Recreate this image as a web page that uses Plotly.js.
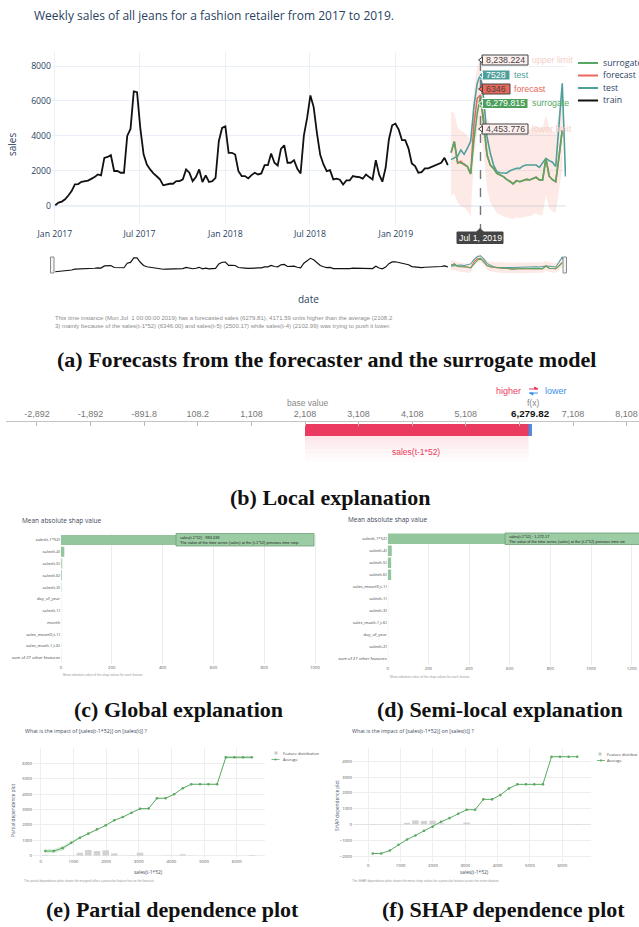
<!DOCTYPE html>
<html><head><meta charset="utf-8">
<script src="https://cdn.plot.ly/plotly-3.0.1.min.js"></script>
<style>html,body{margin:0;padding:0;background:#fff;overflow:hidden}#chart{width:639px;height:927px}</style>
</head><body><div id="chart"></div>
<script>
// ================= DATA =================
// (a) weekly sales, train: Mondays from 2017-01-02
const trainStart = '2017-01-02';
const trainSales = [40,190,250,380,600,850,1230,1250,1380,1400,
1450,1550,1650,1800,1750,2750,2800,2900,2000,2000,
1900,1900,4000,4400,6550,6500,4450,2950,2370,2090,
1860,1700,1520,1180,1230,1270,1270,1420,1420,1520,
2090,1900,1420,1650,2090,1370,1750,1370,1420,1610,
3700,4460,4550,3040,3040,2940,1990,1710,1710,1575,
1765,1900,1800,1860,2330,2330,3000,2470,2315,3260,
3470,2470,2470,2620,2125,1860,4020,5030,6320,5650,
4170,2920,2370,1990,2050,1520,1560,1500,1230,1460,
1460,1710,1670,1650,1560,1800,1650,1520,2620,1800,
1385,2180,3800,4610,4700,4360,3760,3760,3280,2430,
2280,1900,1935,2145,2145,2220,2315,2350,2470,2750,2330];
// test period: Mondays from 2019-04-29
const testStart = '2019-04-29';
const testSales = [2650,2750,2850,3200,2950,3300,3700,5700,7010,7528,
6060,3960,3010,2340,1960,1900,1900,1870,2010,2060,
2150,2150,2290,2340,2340,2340,2340,2200,2430,2720,
2590,2500,2250,4500,7010,1680];
const forecastSales = [3050,3680,2450,2550,2350,2250,1830,4700,6150,6346,
4900,2910,2340,2150,1870,1770,1680,1520,1420,1260,
1450,1390,1450,1520,1490,1580,1640,1490,1490,2720,
1700,1500,1390,2800,4340];
const surrogateSales = [3050,3680,2500,2450,2400,2250,1830,3770,5300,6279.815,
4630,2910,2340,2150,1870,1770,1680,1520,1390,1260,
1450,1390,1450,1520,1490,1580,1640,1490,1490,2720,
1700,1500,1390,2800,4340];
const upperLimit = [5400,5300,4500,4300,4200,4000,3800,6600,8000,8238.224,
6800,5000,4700,4600,4500,4400,4400,4300,4200,4100,
4300,4200,4300,4400,4400,4500,4600,4400,4500,5200,
4500,4300,4200,5500,6600];
const lowerLimit = [600,700,200,0,-100,-300,-600,2800,4250,4453.776,
3000,1000,200,-100,-400,-500,-600,-650,-700,-750,
-650,-700,-650,-600,-600,-500,-400,-550,-500,600,
-100,-300,-400,900,2200];
const mainTickVals = ['2017-01-01','2017-07-01','2018-01-01','2018-07-01','2019-01-01'];
const mainTickText = ['Jan 2017','Jul 2017','Jan 2018','Jul 2018','Jan 2019'];
const hoverDate = '2019-07-01';
const hoverDateLabel = 'Jul 1, 2019';
const seriesNames = ['surrogate','forecast','test','train'];
const summaryText = 'This time instance (Mon Jul  1 00:00:00 2019) has a forecasted sales (6279.81), 4171.59 units higher than the average (2108.2<br>3) mainly because of the sales(t-1*52) (6346.00) and sales(t-5) (2500.17) while sales(t-4) (2102.99) was trying to push it lower.';

// (b) force plot
const forceTicks = [-2892,-1892,-891.8,108.2,1108,2108,3108,4108,5108,6108,7108,8108];
const forceTickText = ['-2,892','-1,892','-891.8','108.2','1,108','2,108','3,108','4,108','5,108','','7,108','8,108'];
const baseValue = 2108.23;
const fxValue = 6279.82;
const positiveEffect = 4230.0;
const negativeEffect = -58.41;

// (c) global explanation
const globalFeatures = ['sales(t-1*52)','sales(t-4)','sales(t-5)','sales(t-6)','sales(t-3)','day_of_year','sales(t-1)','month','sales_mean(0,t-1)','sales_max(t-1,t-6)','sum of 27 other features'];
const globalImportance = [983.438,13,5,4,3,1.5,1.5,1.2,1.2,1.2,2];
// (d) semi-local explanation
const semiFeatures = ['sales(t-1*52)','sales(t-4)','sales(t-5)','sales(t-6)','sales_mean(0,t-1)','sales(t-1)','sales(t-3)','sales_max(t-1,t-6)','day_of_year','sales(t-2)','sum of 27 other features'];
const semiImportance = [1272.17,20,17,17,3,2.5,2.5,2.5,2.5,2.5,3];

// (e)/(f) dependence plots
const binCenters = [140,400,667,934,1200,1457,1723,1990,2251,2513,2780,3041,3303,3559,3826,4082,4349,4610,4877,5134,5400,5667,5929,6195,6462];
const pdpAverage = [300,300,490,845,1170,1430,1710,1970,2300,2510,2790,3050,3060,3730,3730,3990,4380,4640,4640,4640,4640,6390,6390,6390,6390];
const pdpUpper = [430,440,640,950,1230,1470,1740,1990,2320,2530,2810,3070,3080,3760,3760,4010,4400,4670,4670,4670,4670,6480,6480,6480,6480];
const pdpLower = [170,160,340,740,1110,1390,1680,1950,2280,2490,2770,3030,3040,3700,3700,3970,4360,4610,4610,4610,4610,6300,6300,6300,6300];
const pdpDistribution = [60,30,20,20,190,370,300,350,150,10,25,195,0,0,15,15,90,15,0,0,0,0,0,0,40];
const shapAverage = [-1840,-1840,-1650,-1290,-950,-700,-400,-150,170,400,680,930,930,1590,1590,1860,2280,2540,2540,2540,2540,4290,4290,4290,4290];
const shapDistribution = [20,10,10,10,100,260,220,240,70,10,20,120,0,0,10,10,30,10,0,0,0,0,0,0,20];

// ================= HELPERS =================
const W = 639, H = 927;
const PX = v => v / W, PY = v => 1 - v / H;
function weeklyDates(start, n) {
  const t0 = Date.parse(start + 'T00:00:00Z'); const out = [];
  for (let i = 0; i < n; i++) out.push(new Date(t0 + i * 7 * 864e5).toISOString().slice(0, 10));
  return out;
}
const trainDates = weeklyDates(trainStart, trainSales.length);
const testDates = weeklyDates(testStart, testSales.length);
const fcDates = weeklyDates(testStart, forecastSales.length);

const C_TRAIN = '#111111', C_TEST = '#4f9f9b', C_FC = '#e8685b', C_SUR = '#55a862';
const BAND = 'rgba(239,85,59,0.12)';
const OS = 'Open Sans', AR = 'Arial';
const NAVY = '#2a3f5f';
const RED = '#ea3a60', BLUE = '#3d8fe8';

const annotations = [], shapes = [];
function ann(text, x, y, o = {}) {
  annotations.push(Object.assign({text, xref:'paper', yref:'paper', x:PX(x), y:PY(y), showarrow:false,
    xanchor:'center', yanchor:'middle', font:{family:OS, size:10, color:NAVY}}, o));
}
function rect(x0, y0, x1, y1, fill, line, lw = 1, extra = {}) {
  shapes.push(Object.assign({type:'rect', xref:'paper', yref:'paper', x0:PX(x0), x1:PX(x1), y0:PY(y0), y1:PY(y1),
    fillcolor:fill, line:{color:line, width:lw}}, extra));
}
function pline(x0, y0, x1, y1, color, w, dash) {
  shapes.push({type:'line', xref:'paper', yref:'paper', x0:PX(x0), x1:PX(x1), y0:PY(y0), y1:PY(y1), line:{color, width:w, dash:dash||'solid'}});
}
function poly(pts, fill, line, closed = true) {
  const d = 'M ' + pts.map(p => PX(p[0]) + ',' + PY(p[1])).join(' L ') + (closed ? ' Z' : '');
  shapes.push({type:'path', xref:'paper', yref:'paper', path:d, fillcolor:fill, line:{color:line, width:1}});
}

// ================= TRACES =================
const traces = [];
function series(xa, ya, thin) {
  const k = thin ? 0.65 : 1;
  traces.push({x:fcDates, y:lowerLimit, xaxis:xa, yaxis:ya, mode:'lines', line:{width:0, color:BAND}, hoverinfo:'skip', showlegend:false});
  traces.push({x:fcDates, y:upperLimit, xaxis:xa, yaxis:ya, mode:'lines', line:{width:0, color:BAND}, fill:'tonexty', fillcolor:BAND, hoverinfo:'skip', showlegend:false});
  traces.push({x:trainDates, y:trainSales, xaxis:xa, yaxis:ya, mode:'lines', name:'train', line:{color:C_TRAIN, width:1.8*k}, showlegend:false});
  traces.push({x:testDates, y:testSales, xaxis:xa, yaxis:ya, mode:'lines', name:'test', line:{color:C_TEST, width:1.6*k}, showlegend:false});
  traces.push({x:fcDates, y:forecastSales, xaxis:xa, yaxis:ya, mode:'lines', name:'forecast', line:{color:C_FC, width:1.6*k}, showlegend:false});
  traces.push({x:fcDates, y:surrogateSales, xaxis:xa, yaxis:ya, mode:'lines', name:'surrogate', line:{color:C_SUR, width:1.6*k}, showlegend:false});
}
series('x', 'y', false);
series('x2', 'y2', true);

// (b) force plot bars
traces.push({type:'bar', orientation:'h', x:[positiveEffect], base:[baseValue], y:[0.833], width:0.25, xaxis:'x3', yaxis:'y3', marker:{color:RED, line:{width:0}}, showlegend:false});
traces.push({type:'bar', orientation:'h', x:[negativeEffect], base:[baseValue + positiveEffect], y:[0.833], width:0.25, xaxis:'x3', yaxis:'y3', marker:{color:BLUE, line:{width:0}}, showlegend:false});

// (c),(d) bars
const barColor = v => v >= 10 ? '#93c69d' : (v >= 4 ? '#b2d7b8' : '#d4ead7');
traces.push({type:'bar', orientation:'h', x:globalImportance, y:globalFeatures, width:0.86, xaxis:'x4', yaxis:'y4', marker:{color:globalImportance.map(barColor)}, showlegend:false});
traces.push({type:'bar', orientation:'h', x:semiImportance, y:semiFeatures, width:0.86, xaxis:'x5', yaxis:'y5', marker:{color:semiImportance.map(barColor)}, showlegend:false});

// (e) PDP
traces.push({type:'bar', x:binCenters, y:pdpDistribution, width:200, xaxis:'x6', yaxis:'y6', marker:{color:'#d2d2d2'}, showlegend:false});
traces.push({x:binCenters, y:pdpLower, xaxis:'x6', yaxis:'y6', mode:'lines', line:{width:0}, showlegend:false});
traces.push({x:binCenters, y:pdpUpper, xaxis:'x6', yaxis:'y6', mode:'lines', line:{width:0}, fill:'tonexty', fillcolor:'rgba(90,170,98,0.2)', showlegend:false});
traces.push({x:binCenters, y:pdpAverage, xaxis:'x6', yaxis:'y6', mode:'lines+markers', line:{color:'#5aaa62', width:1}, marker:{size:2.6, color:'#5aaa62'}, showlegend:false});
// (f) SHAP dependence
traces.push({type:'bar', x:binCenters, y:shapDistribution, width:200, xaxis:'x7', yaxis:'y7', marker:{color:'#d2d2d2'}, showlegend:false});
traces.push({x:binCenters, y:shapAverage, xaxis:'x7', yaxis:'y7', mode:'lines+markers', line:{color:'#5aaa62', width:1}, marker:{size:2.6, color:'#5aaa62'}, showlegend:false});

// ================= DECORATION =================
// (a) title & labels
ann('Weekly sales of all jeans for a fashion retailer from 2017 to 2019.', 32, 16, {xanchor:'left', font:{family:OS, size:12, color:NAVY}});
ann('sales', 12, 145, {textangle:-90, font:{family:OS, size:10, color:NAVY}});
ann('date', 308, 299, {font:{family:OS, size:10, color:NAVY}});
ann(summaryText, 53, 322, {xanchor:'left', align:'left', font:{family:AR, size:6, color:'#8c8c8c'}});
// legend
const legColors = [C_SUR, C_FC, C_TEST, C_TRAIN];
seriesNames.forEach((n, i) => {
  const y = 63 + i * 12.5;
  pline(578, y, 598, y, legColors[i], 2);
  ann(n, 601, y, {xanchor:'left', font:{family:OS, size:8.7, color:NAVY}});
});
// spike line
shapes.push({type:'line', xref:'x', yref:'paper', x0:hoverDate, x1:hoverDate, y0:PY(233), y1:PY(58), line:{color:'#777', width:1.4, dash:'dash'}});
// hover labels
const hv = [
  {v:'8,238.224', n:'upper limit', y:60, w:46, bg:'#fdf0ee', fg:'#444', nc:'#f5cfc8'},
  {v:'7528', n:'test', y:75, w:28, bg:C_TEST, fg:'#fff', nc:C_TEST},
  {v:'6346', n:'forecast', y:89, w:28, bg:C_FC, fg:'#444', nc:C_FC},
  {v:'6,279.815', n:'surrogate', y:103.5, w:46, bg:'#4ca05c', fg:'#fff', nc:C_SUR},
  {v:'4,453.776', n:'lower limit', y:129, w:46, bg:'#fdf0ee', fg:'#444', nc:'#f5cfc8'}
];
hv.forEach(h => {
  const x0 = 482, x1 = x0 + h.w;
  rect(x0, h.y - 5, x1, h.y + 5, h.bg, h.fg, 1);
  poly([[x0 + 0.5, h.y - 3], [478.5, h.y], [x0 + 0.5, h.y + 3]], h.bg, h.fg);
  ann(h.v, (x0 + x1) / 2, h.y, {font:{family:AR, size:8.8, color:h.fg}});
  ann(h.n, x1 + 2, h.y, {xanchor:'left', font:{family:AR, size:8.8, color:h.nc}});
});
rect(457, 232, 503, 243.5, '#444', '#444', 1);
poly([[476, 232.5], [480, 228.5], [484, 232.5]], '#444', '#444');
ann(hoverDateLabel, 480, 238, {font:{family:AR, size:8.8, color:'#fff'}});
// range slider handles
rect(50.5, 257, 54, 273, '#f4f4f4', '#8a8a8a', 1);
rect(563, 257, 566.5, 273, '#f4f4f4', '#8a8a8a', 1);

const CAP = {family:'Liberation Serif', size:22, color:'#111'};
ann('<b>(a) Forecasts from the forecaster and the surrogate model</b>', 326, 359, {font:CAP});

// (b) force plot texts
ann('higher', 509, 391, {font:{family:AR, size:9, color:RED}});
pline(529, 389, 537.5, 389, RED, 1);
poly([[534.5, 387], [538, 389], [534.5, 389]], RED, RED);
pline(529.5, 393, 538, 393, BLUE, 1);
poly([[533, 393], [529.5, 393], [533, 395]], BLUE, BLUE);
ann('lower', 556, 391, {font:{family:AR, size:9, color:BLUE}});
ann('base value', 307, 402.5, {font:{family:AR, size:8.5, color:'#888'}});
ann('f(x)', 533, 402.5, {font:{family:AR, size:8.5, color:'#888'}});
ann('<b>6,279.82</b>', 530, 413, {font:{family:AR, size:9.8, color:'#111'}});
ann('sales(t-1*52)', 416, 452, {font:{family:AR, size:8.5, color:RED}});
[0.13, 0.10, 0.075, 0.05, 0.03, 0.015].forEach((op, i) => {
  shapes.push({type:'rect', xref:'x3', yref:'paper', x0:baseValue, x1:fxValue, y0:PY(436 + (i + 1) * 4.3), y1:PY(436 + i * 4.3),
    fillcolor:RED, opacity:op, line:{width:0}, layer:'below'});
});
ann('<b>(b) Local explanation</b>', 330, 498, {font:CAP});

// (c),(d)
const SMALL = {family:OS, size:6.5, color:'#3e4a5c'};
ann('Mean absolute shap value', 20, 520, {xanchor:'left', font:SMALL});
ann('Mean absolute value of the shap values for each feature.', 61, 675, {xanchor:'left', font:{family:AR, size:3.2, color:'#999'}});
rect(176, 533.5, 314, 546, '#9ccca4', '#6f9f77', 0.8);
ann('sales(t-1*52) : 983.438<br>The value of the time series (sales) at the (t-1*52) previous time step.', 177.5, 539.8, {xanchor:'left', align:'left', font:{family:AR, size:3.9, color:'#222'}});
ann('<b>(c) Global explanation</b>', 178, 709, {font:CAP});

ann('Mean absolute shap value', 346, 519, {xanchor:'left', font:SMALL});
ann('Mean absolute value of the shap values for each feature.', 388, 677, {xanchor:'left', font:{family:AR, size:3.2, color:'#999'}});
rect(505, 533, 645, 544.5, '#9ccca4', '#6f9f77', 0.8);
ann('sales(t-1*52) : 1,272.17<br>The value of the time series (sales) at the (t-1*52) previous time ste', 506.5, 538.8, {xanchor:'left', align:'left', font:{family:AR, size:3.9, color:'#222'}});
ann('<b>(d) Semi-local explanation</b>', 500, 709, {font:CAP});

// (e),(f)
const T5 = {family:OS, size:5.3, color:'#3e4a5c'};
const AX = {family:OS, size:4.8, color:'#3e4a5c'};
ann('What is the impact of [sales(t-1*52)] on [sales(t)] ?', 23, 731, {xanchor:'left', font:T5});
ann('Partial dependence plot', 13, 810, {textangle:-90, font:AX});
ann('sales(t-1*52)', 148, 872, {font:AX});
ann('The partial dependence plots shows the marginal effect a particular feature has on the forecast.', 22, 881, {xanchor:'left', font:{family:AR, size:3.1, color:'#999'}});
rect(274.5, 751.5, 277.5, 754.5, '#c8c8c8', '#c8c8c8', 0);
ann('Feature distribution', 281, 753, {xanchor:'left', font:{family:OS, size:3.9, color:'#444'}});
pline(271.5, 759.5, 279.5, 759.5, '#5aaa62', 0.8);
rect(274.6, 758.6, 276.4, 760.4, '#5aaa62', '#5aaa62', 0);
ann('Average', 281, 759.5, {xanchor:'left', font:{family:OS, size:3.9, color:'#444'}});
ann('<b>(e) Partial dependence plot</b>', 172, 909, {font:CAP});

ann('What is the impact of [sales(t-1*52)] on [sales(t)] ?', 350, 731, {xanchor:'left', font:T5});
ann('SHAP dependence plot', 337, 805, {textangle:-90, font:AX});
ann('sales(t-1*52)', 474, 871.5, {font:AX});
ann('The SHAP dependence plots shows the mean shap values for a particular feature across the entire dataset.', 350, 881, {xanchor:'left', font:{family:AR, size:3.1, color:'#999'}});
rect(598.5, 752.5, 601.5, 755.5, '#c8c8c8', '#c8c8c8', 0);
ann('Feature distribut', 605, 754, {xanchor:'left', font:{family:OS, size:3.9, color:'#444'}});
pline(597, 760.5, 605, 760.5, '#5aaa62', 0.8);
rect(600.1, 759.6, 601.9, 761.4, '#5aaa62', '#5aaa62', 0);
ann('Average', 605, 760.5, {xanchor:'left', font:{family:OS, size:3.9, color:'#444'}});
ann('<b>(f) SHAP dependence plot</b>', 503, 909, {font:CAP});

// ================= AXES =================
const noAx = {visible:false, fixedrange:true};
const tickA = {family:OS, size:8.7, color:NAVY};
const tinyTick = {family:OS, size:4.3, color:'#555'};
const layout = {
  width:W, height:H, margin:{l:0, r:0, t:0, b:0}, paper_bgcolor:'#fff', plot_bgcolor:'#fff',
  showlegend:false, barmode:'overlay', hovermode:false,
  xaxis:{domain:[PX(52), PX(566)], anchor:'y', type:'date', range:['2016-12-26','2019-12-31'], tickmode:'array', tickvals:mainTickVals, ticktext:mainTickText,
    tickfont:tickA, gridcolor:'#ebf0f8', showline:false, zeroline:false, ticks:'', ticklabelstandoff:3},
  yaxis:{domain:[PY(224), PY(52)], anchor:'x', range:[-1030, 8800], tick0:0, dtick:2000, tickfont:tickA, gridcolor:'#ebf0f8',
    zeroline:true, zerolinecolor:'#ebf0f8', zerolinewidth:2, showline:false, ticks:''},
  xaxis2:Object.assign({domain:[PX(52), PX(566)], anchor:'y2', type:'date', range:['2016-12-26','2019-12-31']}, noAx),
  yaxis2:Object.assign({domain:[PY(274), PY(253)], anchor:'x2', range:[-1030, 8800]}, noAx),
  xaxis3:{domain:[PX(6), 1], anchor:'y3', side:'top', range:[-3470, 8339], tickmode:'array', tickvals:forceTicks, ticktext:forceTickText,
    ticks:'inside', ticklen:4, tickcolor:'#bbb', showline:true, linecolor:'#c4c4c4', linewidth:1, showgrid:false, zeroline:false,
    tickfont:{family:AR, size:9, color:'#777'}},
  yaxis3:Object.assign({domain:[PY(470), PY(422)], anchor:'x3', range:[0, 1]}, noAx),
  xaxis4:{domain:[PX(61), PX(320)], anchor:'y4', range:[0, 1019.7], dtick:200, tickfont:tinyTick, gridcolor:'#ececec', zeroline:false, ticks:''},
  yaxis4:{domain:[PY(663.6), PY(534.1)], anchor:'x4', type:'category', autorange:'reversed', tickfont:{family:OS, size:4.2, color:'#444'}, ticks:'', showgrid:false},
  xaxis5:{domain:[PX(387.7), 1], anchor:'y5', range:[0, 1236], dtick:200, tickfont:tinyTick, gridcolor:'#ececec', zeroline:false, ticks:''},
  yaxis5:{domain:[PY(665), PY(532.7)], anchor:'x5', type:'category', autorange:'reversed', tickfont:{family:OS, size:4.2, color:'#444'}, ticks:'', showgrid:false},
  xaxis6:{domain:[PX(33), PX(265)], anchor:'y6', range:[-236, 6866], dtick:1000, tickfont:tinyTick, gridcolor:'#eeeeee', zeroline:false, ticks:''},
  yaxis6:{domain:[PY(858), PY(748)], anchor:'x6', range:[-150, 6994], dtick:1000, tickfont:tinyTick, gridcolor:'#eeeeee', zeroline:false, ticks:''},
  xaxis7:{domain:[PX(353), PX(591)], anchor:'y7', range:[-473, 6888], dtick:1000, tickfont:tinyTick, gridcolor:'#eeeeee', zeroline:false, ticks:''},
  yaxis7:{domain:[PY(862), PY(748)], anchor:'x7', range:[-2380, 4843], dtick:1000, tickfont:tinyTick, gridcolor:'#eeeeee', zeroline:true, zerolinecolor:'#e4e4e4', zerolinewidth:1, ticks:''},
  annotations, shapes
};
Plotly.newPlot('chart', traces, layout, {staticPlot:true, displayModeBar:false});
</script></body></html>
